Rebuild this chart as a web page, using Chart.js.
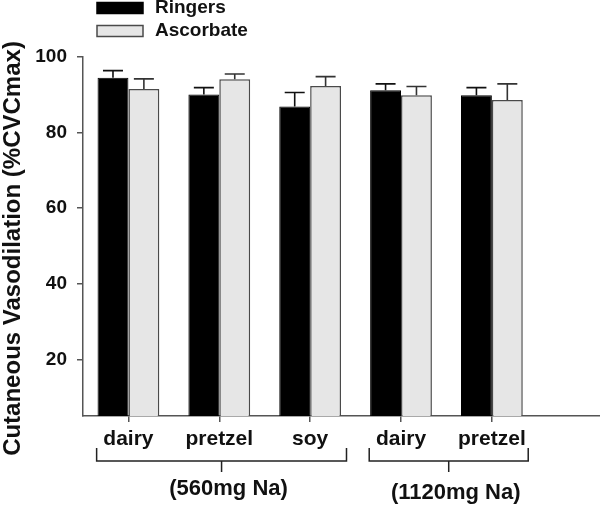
<!DOCTYPE html>
<html>
<head>
<meta charset="utf-8">
<script src="https://cdn.jsdelivr.net/npm/chart.js@4"></script>
<style>
  body { margin: 0; background: #fff; }
</style>
</head>
<body>
<canvas id="chart" width="600" height="505"></canvas>
<script>
// values
const foods = ['dairy', 'pretzel', 'soy', 'dairy', 'pretzel'];
const ringers = [94.5, 90.1, 86.9, 91.2, 89.9];
const ringersErr = [1.9, 1.8, 3.7, 1.7, 2.0];
const ascorbate = [91.5, 94.1, 92.3, 89.9, 88.6];
const ascorbateErr = [2.7, 1.4, 2.5, 2.3, 4.3];
const yTicks = [20, 40, 60, 80, 100];
const yTitle = 'Cutaneous Vasodilation (%CVCmax)';
const doseGroups = [
  { label: '(560mg Na)', from: 0, to: 2 },
  { label: '(1120mg Na)', from: 3, to: 4 }
];

const FONT = '"Liberation Sans", Arial, sans-serif';
Chart.defaults.font.family = FONT;
Chart.defaults.color = '#111';

const errors = [ringersErr, ascorbateErr];

// upward error bars with a cap
const errorBars = {
  id: 'errorBars',
  afterDatasetsDraw(chart) {
    const ctx = chart.ctx;
    const y = chart.scales.y;
    chart.data.datasets.forEach((ds, di) => {
      const meta = chart.getDatasetMeta(di);
      ctx.save();
      ctx.strokeStyle = ds.errColor;
      ctx.lineWidth = 1.6;
      meta.data.forEach((bar, i) => {
        const v = ds.data[i].y;
        const top = y.getPixelForValue(v + errors[di][i]);
        ctx.beginPath();
        ctx.moveTo(bar.x, bar.y);
        ctx.lineTo(bar.x, top);
        ctx.moveTo(bar.x - 10, top);
        ctx.lineTo(bar.x + 10, top);
        ctx.stroke();
      });
      ctx.restore();
    });
  }
};

// brackets, dose labels and the y title
const annotations = {
  id: 'annotations',
  afterDraw(chart) {
    const ctx = chart.ctx;
    const x = chart.scales.x;
    const area = chart.chartArea;
    const base = area.bottom;
    ctx.save();
    ctx.strokeStyle = '#222';
    ctx.lineWidth = 1.5;
    ctx.fillStyle = '#111';
    ctx.font = 'bold 22px ' + FONT;
    ctx.textAlign = 'center';
    ctx.textBaseline = 'middle';
    doseGroups.forEach((g, k) => {
      const x1 = x.getPixelForValue(g.from - 0.35);
      const x2 = x.getPixelForValue(g.to + 0.4);
      const xc = (x1 + x2) / 2;
      ctx.beginPath();
      ctx.moveTo(x1, base + 32);
      ctx.lineTo(x1, base + 45);
      ctx.lineTo(x2, base + 45);
      ctx.lineTo(x2, base + 32);
      ctx.moveTo(xc, base + 45);
      ctx.lineTo(xc, base + 56);
      ctx.stroke();
      ctx.fillText(g.label, xc + 7, base + 73 + k * 4);
    });

    ctx.translate(13, (area.top + area.bottom) / 2 + 12);
    ctx.rotate(-Math.PI / 2);
    ctx.font = 'bold 24px ' + FONT;
    ctx.fillText(yTitle, 0, 0);
    ctx.restore();
  }
};

// stacked legend in the top left corner
const legendBox = {
  id: 'legendBox',
  afterDraw(chart) {
    const ctx = chart.ctx;
    ctx.save();
    ctx.font = 'bold 19px ' + FONT;
    ctx.textBaseline = 'middle';
    chart.data.datasets.forEach((ds, i) => {
      const cy = 8 + i * 23;
      ctx.fillStyle = ds.backgroundColor;
      ctx.fillRect(97, cy - 5.5, 46, 11);
      ctx.strokeStyle = ds.borderColor;
      ctx.lineWidth = 1.5;
      ctx.strokeRect(97, cy - 5.5, 46, 11);
      ctx.fillStyle = '#111';
      ctx.fillText(ds.label, 155, cy);
    });
    ctx.restore();
  }
};

const ctx = document.getElementById('chart').getContext('2d');
new Chart(ctx, {
  type: 'bar',
  data: {
    datasets: [{
      label: 'Ringers',
      data: ringers.map((v, i) => ({ x: i, y: v })),
      backgroundColor: '#000000',
      borderColor: '#000000',
      borderWidth: 1,
      errColor: '#111'
    }, {
      label: 'Ascorbate',
      data: ascorbate.map((v, i) => ({ x: i, y: v })),
      backgroundColor: '#e6e6e6',
      borderColor: '#4a4a4a',
      borderWidth: 1.5,
      errColor: '#333'
    }]
  },
  options: {
    responsive: false,
    animation: false,
    categoryPercentage: 0.68,
    barPercentage: 1.0,
    layout: { padding: { top: 57, left: 0, right: 0, bottom: 0 } },
    plugins: {
      legend: { display: false },
      tooltip: { enabled: false }
    },
    scales: {
      x: {
        type: 'linear',
        min: -0.5,
        max: 5.19,
        offset: false,
        afterBuildTicks: s => { s.ticks = foods.map((f, i) => ({ value: i })); },
        afterFit: s => { s.height = 89; },
        grid: { drawOnChartArea: false, offset: false, tickLength: 6, color: '#555', lineWidth: 1.5 },
        border: { color: '#555', width: 1.5 },
        ticks: {
          autoSkip: false,
          maxRotation: 0,
          padding: 5,
          font: { size: 21, weight: 'bold' },
          color: '#111',
          callback: v => foods[v] ?? ''
        }
      },
      y: {
        min: 5,
        max: 100,
        afterBuildTicks: s => { s.ticks = yTicks.map(v => ({ value: v })); },
        afterFit: s => { s.width = 83; },
        grid: { drawOnChartArea: false, tickLength: 6, color: '#555', lineWidth: 1.5 },
        border: { color: '#555', width: 1.5 },
        ticks: {
          padding: 10,
          font: { size: 19, weight: 'bold' },
          color: '#111'
        }
      }
    }
  },
  plugins: [errorBars, annotations, legendBox]
});
</script>
</body>
</html>
